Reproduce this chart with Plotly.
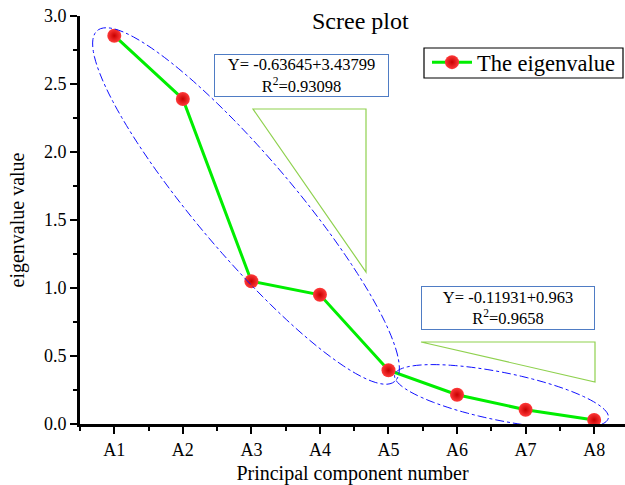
import numpy as np
import plotly.graph_objects as go

categories = ["A1", "A2", "A3", "A4", "A5", "A6", "A7", "A8"]
eigenvalues = [2.855, 2.39, 1.05, 0.95, 0.395, 0.215, 0.105, 0.03]
fit1_text = "Y= -0.63645+3.43799<br>R<sup>2</sup>=0.93098"
fit2_text = "Y= -0.11931+0.963<br>R<sup>2</sup>=0.9658"

W, H = 625, 485
L, R, T, B = 80, 0, 16, 61
XMIN, XMAX = 0.5, 8.45
YMIN, YMAX = 0.0, 3.0
pw = W - L - R
ph = H - T - B

def px2x(px):
    return XMIN + (px - L) / pw * (XMAX - XMIN)

def py2y(py):
    return YMAX - (py - T) / ph * (YMAX - YMIN)

def ellipse_path(cx, cy, a, b, ang_deg, n=120):
    t = np.linspace(0, 2 * np.pi, n)
    th = np.radians(ang_deg)
    xs = cx + a * np.cos(t) * np.cos(th) - b * np.sin(t) * np.sin(th)
    ys = cy + a * np.cos(t) * np.sin(th) + b * np.sin(t) * np.cos(th)
    pts = [f"{px2x(x):.5f},{py2y(y):.5f}" for x, y in zip(xs, ys)]
    return "M " + " L ".join(pts) + " Z"

def tri_path(pts):
    s = [f"{px2x(x):.5f},{py2y(y):.5f}" for x, y in pts]
    return "M " + " L ".join(s) + " Z"

xpos = list(range(1, len(categories) + 1))
serif = "Liberation Serif"

fig = go.Figure()
fig.add_trace(go.Scatter(
    x=xpos, y=eigenvalues, mode="lines+markers", name="The eigenvalue",
    line=dict(color="#00ee00", width=3),
    marker=dict(size=14, color="#ff3a3a",
                gradient=dict(type="radial", color="#c80000"),
                line=dict(width=0)),
))

shapes = [
    dict(type="path", path=ellipse_path(246, 206, 230, 49, 49.7),
         line=dict(color="#1010ff", width=1, dash="dashdot"), xref="x", yref="y"),
    dict(type="path", path=ellipse_path(501.5, 396.5, 109, 24, 11.4),
         line=dict(color="#1010ff", width=1, dash="dashdot"), xref="x", yref="y"),
    dict(type="path", path=tri_path([(253, 109), (366, 109), (366, 272)]),
         line=dict(color="#8fd14f", width=1.2), xref="x", yref="y"),
    dict(type="path", path=tri_path([(421, 342), (595, 342), (595, 382)]),
         line=dict(color="#8fd14f", width=1.2), xref="x", yref="y"),
    dict(type="rect", xref="paper", yref="paper",
         x0=(424 - L) / pw, x1=(623 - L) / pw,
         y0=(H - B - 78) / ph, y1=(H - B - 48) / ph,
         line=dict(color="black", width=1.2), fillcolor="rgba(0,0,0,0)"),
]

annotations = [
    dict(text="Scree plot", x=px2x(360), y=py2y(21), xref="x", yref="y",
         showarrow=False, font=dict(family=serif, size=24, color="black")),
    dict(text=fit1_text, x=px2x(301.5), y=py2y(75.5), xref="x", yref="y",
         showarrow=False, font=dict(family=serif, size=16.5, color="black"),
         bordercolor="#4f7cc4", borderwidth=1, bgcolor="white",
         width=171, height=39, borderpad=1, align="center"),
    dict(text=fit2_text, x=px2x(508), y=py2y(308), xref="x", yref="y",
         showarrow=False, font=dict(family=serif, size=16.5, color="black"),
         bordercolor="#4f7cc4", borderwidth=1, bgcolor="white",
         width=170, height=40, borderpad=1, align="center"),
]

fig.update_layout(
    width=W, height=H,
    margin=dict(l=L, r=R, t=T, b=B, autoexpand=False),
    plot_bgcolor="white", paper_bgcolor="white",
    font=dict(family=serif, size=18, color="black"),
    showlegend=True,
    legend=dict(x=(427 - L) / pw, y=(424 - 41) / ph, xanchor="left", yanchor="top",
                borderwidth=0, bgcolor="rgba(0,0,0,0)",
                font=dict(family=serif, size=22.5), itemwidth=40,
                tracegroupgap=0),
    shapes=shapes,
    annotations=annotations,
    xaxis=dict(range=[XMIN, XMAX], tickvals=xpos, ticktext=categories,
               showline=True, linecolor="black", linewidth=3,
               ticks="outside", ticklen=7, tickwidth=2, tickcolor="black",
               minor=dict(tick0=0.5, dtick=1, ticks="outside", ticklen=4,
                          tickwidth=2, tickcolor="black"),
               showgrid=False, zeroline=False,
               title=dict(text="Principal component number",
                          font=dict(family=serif, size=20), standoff=9),
               tickfont=dict(family=serif, size=18)),
    yaxis=dict(range=[YMIN, YMAX], dtick=0.5, tickformat=".1f",
               showline=True, linecolor="black", linewidth=3,
               ticks="outside", ticklen=7, tickwidth=2, tickcolor="black",
               minor=dict(dtick=0.25, ticks="outside", ticklen=4,
                          tickwidth=2, tickcolor="black"),
               showgrid=False, zeroline=False,
               title=dict(text="eigenvalue value",
                          font=dict(family=serif, size=20), standoff=14),
               tickfont=dict(family=serif, size=18)),
)

fig.write_html("out.html")
